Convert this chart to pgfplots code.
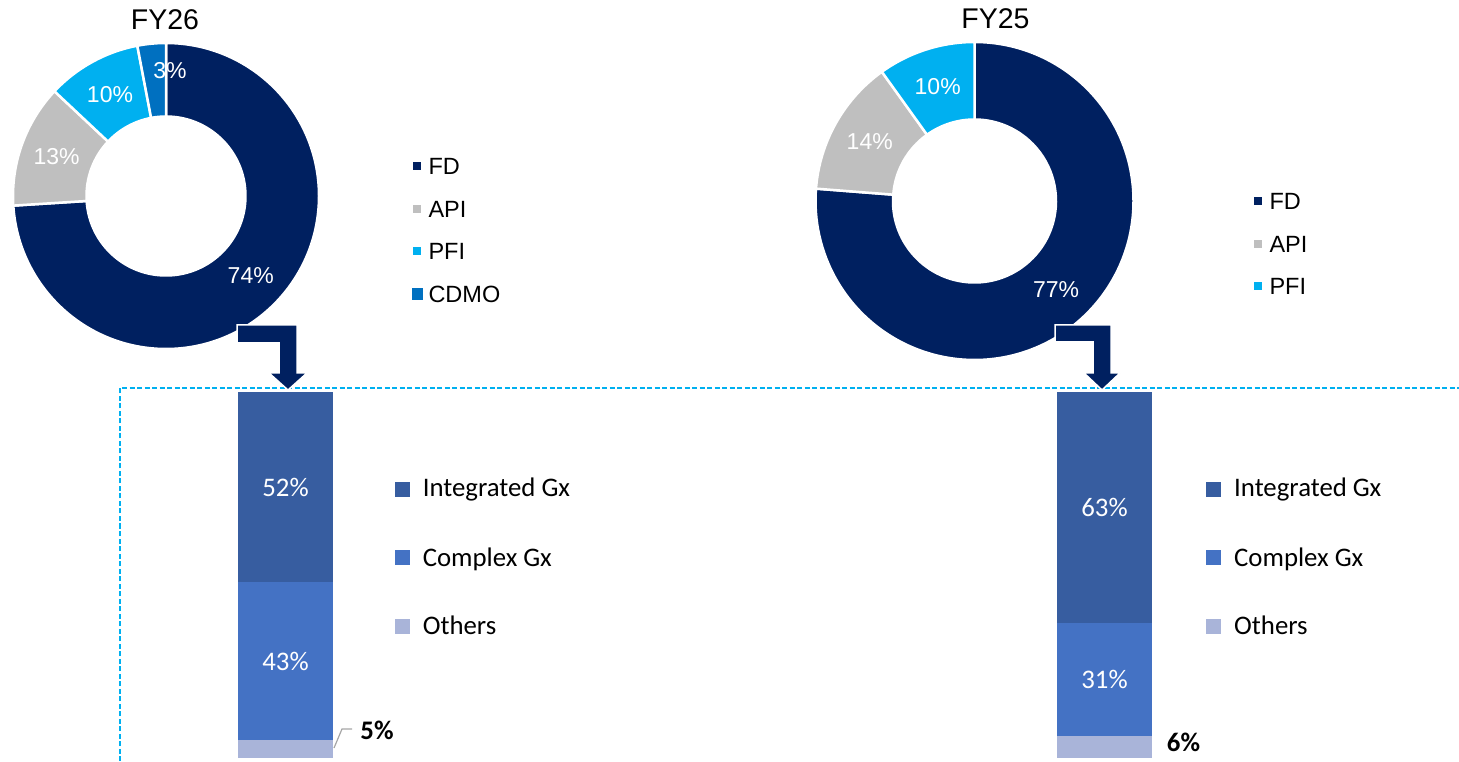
\documentclass[border=0pt]{standalone}
\usepackage{pgfplots}
\usepackage{pgfplotstable}
\pgfplotsset{compat=1.18}
\usepackage{fontspec}
\setmainfont{Liberation Sans}
\newfontfamily\calfont{Carlito}

\definecolor{cFD}{HTML}{002060}
\definecolor{cAPI}{HTML}{BFBFBF}
\definecolor{cPFI}{HTML}{00B0F0}
\definecolor{cCDMO}{HTML}{0070C0}
\definecolor{cInt}{HTML}{375DA0}
\definecolor{cCx}{HTML}{4472C4}
\definecolor{cOth}{HTML}{A9B4D9}
\definecolor{cDash}{HTML}{00B0F0}
\definecolor{cLead}{HTML}{A6A6A6}

\newcommand{\lblfont}{\fontsize{23}{27}\selectfont}
\newcommand{\legfont}{\fontsize{23.5}{28}\selectfont}
\newcommand{\ttlfont}{\fontsize{28.5}{33}\selectfont}
\newcommand{\barfont}{\calfont\fontsize{26.8}{30}\selectfont}

% donut data: label, value (%), colour, label shift
\pgfplotstableread{
label value color dx dy
FD 74 cFD 0 0
API 13 cAPI 0 0
PFI 10 cPFI 0 0
CDMO 3 cCDMO 15 10
}\donutFYsix

\pgfplotstableread{
label value color dx dy
FD 77 cFD 0 0
API 14 cAPI 0 0
PFI 10 cPFI 0 0
}\donutFYfive

% #1 table, #2 outer radius (pt), #3 inner radius (pt)
\newcommand{\drawdonut}[3]{%
  \pgfplotstablegetrowsof{#1}%
  \pgfmathtruncatemacro{\nrows}{\pgfplotsretval-1}%
  \def\tot{0}%
  \pgfplotsforeachungrouped \i in {0,...,\nrows}{%
    \pgfplotstablegetelem{\i}{value}\of{#1}%
    \pgfmathsetmacro{\tot}{\tot+\pgfplotsretval}}%
  \def\cum{0}%
  \pgfmathsetmacro{\dR}{#2-#3}%
  \pgfmathsetmacro{\rM}{(#2+#3)/2}%
  \pgfplotsforeachungrouped \i in {0,...,\nrows}{%
    \pgfplotstablegetelem{\i}{value}\of{#1}\let\val\pgfplotsretval
    \pgfplotstablegetelem{\i}{color}\of{#1}\let\col\pgfplotsretval
    \pgfplotstablegetelem{\i}{dx}\of{#1}\let\ldx\pgfplotsretval
    \pgfplotstablegetelem{\i}{dy}\of{#1}\let\ldy\pgfplotsretval
    \pgfmathtruncatemacro{\vint}{\val}%
    \pgfmathsetmacro{\aA}{90-\cum/\tot*360}%
    \pgfmathsetmacro{\cum}{\cum+\val}%
    \pgfmathsetmacro{\aB}{90-\cum/\tot*360}%
    \pgfmathsetmacro{\aM}{(\aA+\aB)/2}%
    \edef\tmp{%
      \noexpand\fill[\col, draw=white, line width=2.5pt, line join=round]
        (axis cs:0,0) ++(\aA:#2pt) arc[start angle=\aA, end angle=\aB, radius=#2pt]
        -- ++(\aB+180:\dR pt) arc[start angle=\aB, end angle=\aA, radius=#3pt] -- cycle;
      \noexpand\node[text=white, font=\noexpand\lblfont, inner sep=0pt, xshift=\ldx pt, yshift=\ldy pt]
        at ([shift={(\aM:\rM pt)}]axis cs:0,0) {\vint\noexpand\%};
    }\tmp
  }%
}

\newcommand{\legsq}[4]{\fill[#1] (#2pt-#4pt/2,#3pt-#4pt/2) rectangle (#2pt+#4pt/2,#3pt+#4pt/2);}

\begin{document}
\begin{tikzpicture}
\path[use as bounding box] (0pt,0pt) rectangle (1459pt,761pt);

% dashed frame
\draw[cDash, line width=1.4pt, dash pattern=on 5pt off 2.5pt] (120pt,0pt) -- (120pt,373pt) -- (1459pt,373pt);

% ---------- FY26 stacked bar ----------
\begin{axis}[at={(238pt,3pt)}, anchor=south west, scale only axis, width=95pt, height=366pt,
  hide axis, ybar stacked, bar width=95pt, xmin=-0.5, xmax=0.5, ymin=0, ymax=100, clip=false]
\addplot[fill=cOth, draw=none] coordinates {(0,5)};
\addplot[fill=cCx, draw=none] coordinates {(0,43)};
\addplot[fill=cInt, draw=none] coordinates {(0,52)};
\coordinate (a52) at (axis cs:0,{5+43+52/2});
\coordinate (a43) at (axis cs:0,{5+43/2});
\end{axis}
\node[text=white, font=\barfont] at (a52) {52\%};
\node[text=white, font=\barfont] at (a43) {43\%};

% ---------- FY25 stacked bar ----------
\begin{axis}[at={(1057pt,3pt)}, anchor=south west, scale only axis, width=95pt, height=366pt,
  hide axis, ybar stacked, bar width=95pt, xmin=-0.5, xmax=0.5, ymin=0, ymax=100, clip=false]
\addplot[fill=cOth, draw=none] coordinates {(0,6)};
\addplot[fill=cCx, draw=none] coordinates {(0,31)};
\addplot[fill=cInt, draw=none] coordinates {(0,63)};
\coordinate (b63) at (axis cs:0,{6+31+63/2});
\coordinate (b31) at (axis cs:0,{6+31/2});
\end{axis}
\node[text=white, font=\barfont] at (b63) {63\%};
\node[text=white, font=\barfont] at (b31) {31\%};

% ---------- FY26 donut ----------
\begin{axis}[at={(166pt,565pt)}, anchor=center, scale only axis, width=304pt, height=304pt,
  hide axis, xmin=-1, xmax=1, ymin=-1, ymax=1, clip=false]
\drawdonut{\donutFYsix}{153}{79.5}
\end{axis}

% ---------- FY25 donut ----------
\begin{axis}[at={(974.5pt,560pt)}, anchor=center, scale only axis, width=316pt, height=316pt,
  hide axis, xmin=-1, xmax=1, ymin=-1, ymax=1, clip=false]
\drawdonut{\donutFYfive}{159}{81.5}
\end{axis}

\begin{scope}[x=1pt,y=1pt]
% outside labels
\draw[cLead, line width=1.2pt] (334,13) -- (342,32) -- (352,32);
\node[font=\barfont\bfseries] at (377,30.5) {5\%};
\node[font=\barfont\bfseries] at (1183.5,18.5) {6\%};

% bar legends
\foreach \cx/\tx in {402.5/422.6, 1213.5/1234}{
  \legsq{cInt}{\cx}{271.7}{15}
  \legsq{cCx}{\cx}{203.5}{15}
  \legsq{cOth}{\cx}{134.3}{15}
  \node[anchor=base west, inner sep=0pt, font=\barfont] at (\tx,264) {Integrated Gx};
  \node[anchor=base west, inner sep=0pt, font=\barfont] at (\tx,195) {Complex Gx};
  \node[anchor=base west, inner sep=0pt, font=\barfont] at (\tx,126.5) {Others};
}

% titles
\node[anchor=base, inner sep=0pt, font=\ttlfont] at (165,731.7) {FY26};
\node[anchor=base, inner sep=0pt, font=\ttlfont] at (995.5,732.7) {FY25};

% donut legends
\legsq{cFD}{417}{595}{7.5}
\legsq{cAPI}{417}{552}{7.5}
\legsq{cPFI}{417}{510}{7.5}
\legsq{cCDMO}{417.5}{467}{11.7}
\node[anchor=base west, inner sep=0pt, font=\legfont] at (428.3,586.6) {FD};
\node[anchor=base west, inner sep=0pt, font=\legfont] at (428.3,543.6) {API};
\node[anchor=base west, inner sep=0pt, font=\legfont] at (428.3,501.6) {PFI};
\node[anchor=base west, inner sep=0pt, font=\legfont] at (428.3,458.6) {CDMO};

\legsq{cFD}{1257.8}{560}{7.7}
\legsq{cAPI}{1257.8}{517}{7.7}
\legsq{cPFI}{1257.8}{475}{7.7}
\node[anchor=base west, inner sep=0pt, font=\legfont] at (1269.3,551.6) {FD};
\node[anchor=base west, inner sep=0pt, font=\legfont] at (1269.3,508.6) {API};
\node[anchor=base west, inner sep=0pt, font=\legfont] at (1269.3,466.6) {PFI};

% elbow arrows
\fill[cFD, draw=white, line width=1.5pt, line join=miter]
  (237,436) -- (297,436) -- (297,388) -- (307,388) -- (288,371) -- (269,388) -- (279,388) -- (279,418) -- (237,418) -- cycle;
\fill[cFD, draw=white, line width=1.5pt, line join=miter]
  (1055,436) -- (1111,436) -- (1111,388) -- (1120,388) -- (1102,371) -- (1084,388) -- (1093,388) -- (1093,419) -- (1055,419) -- cycle;
\end{scope}
\end{tikzpicture}
\end{document}
